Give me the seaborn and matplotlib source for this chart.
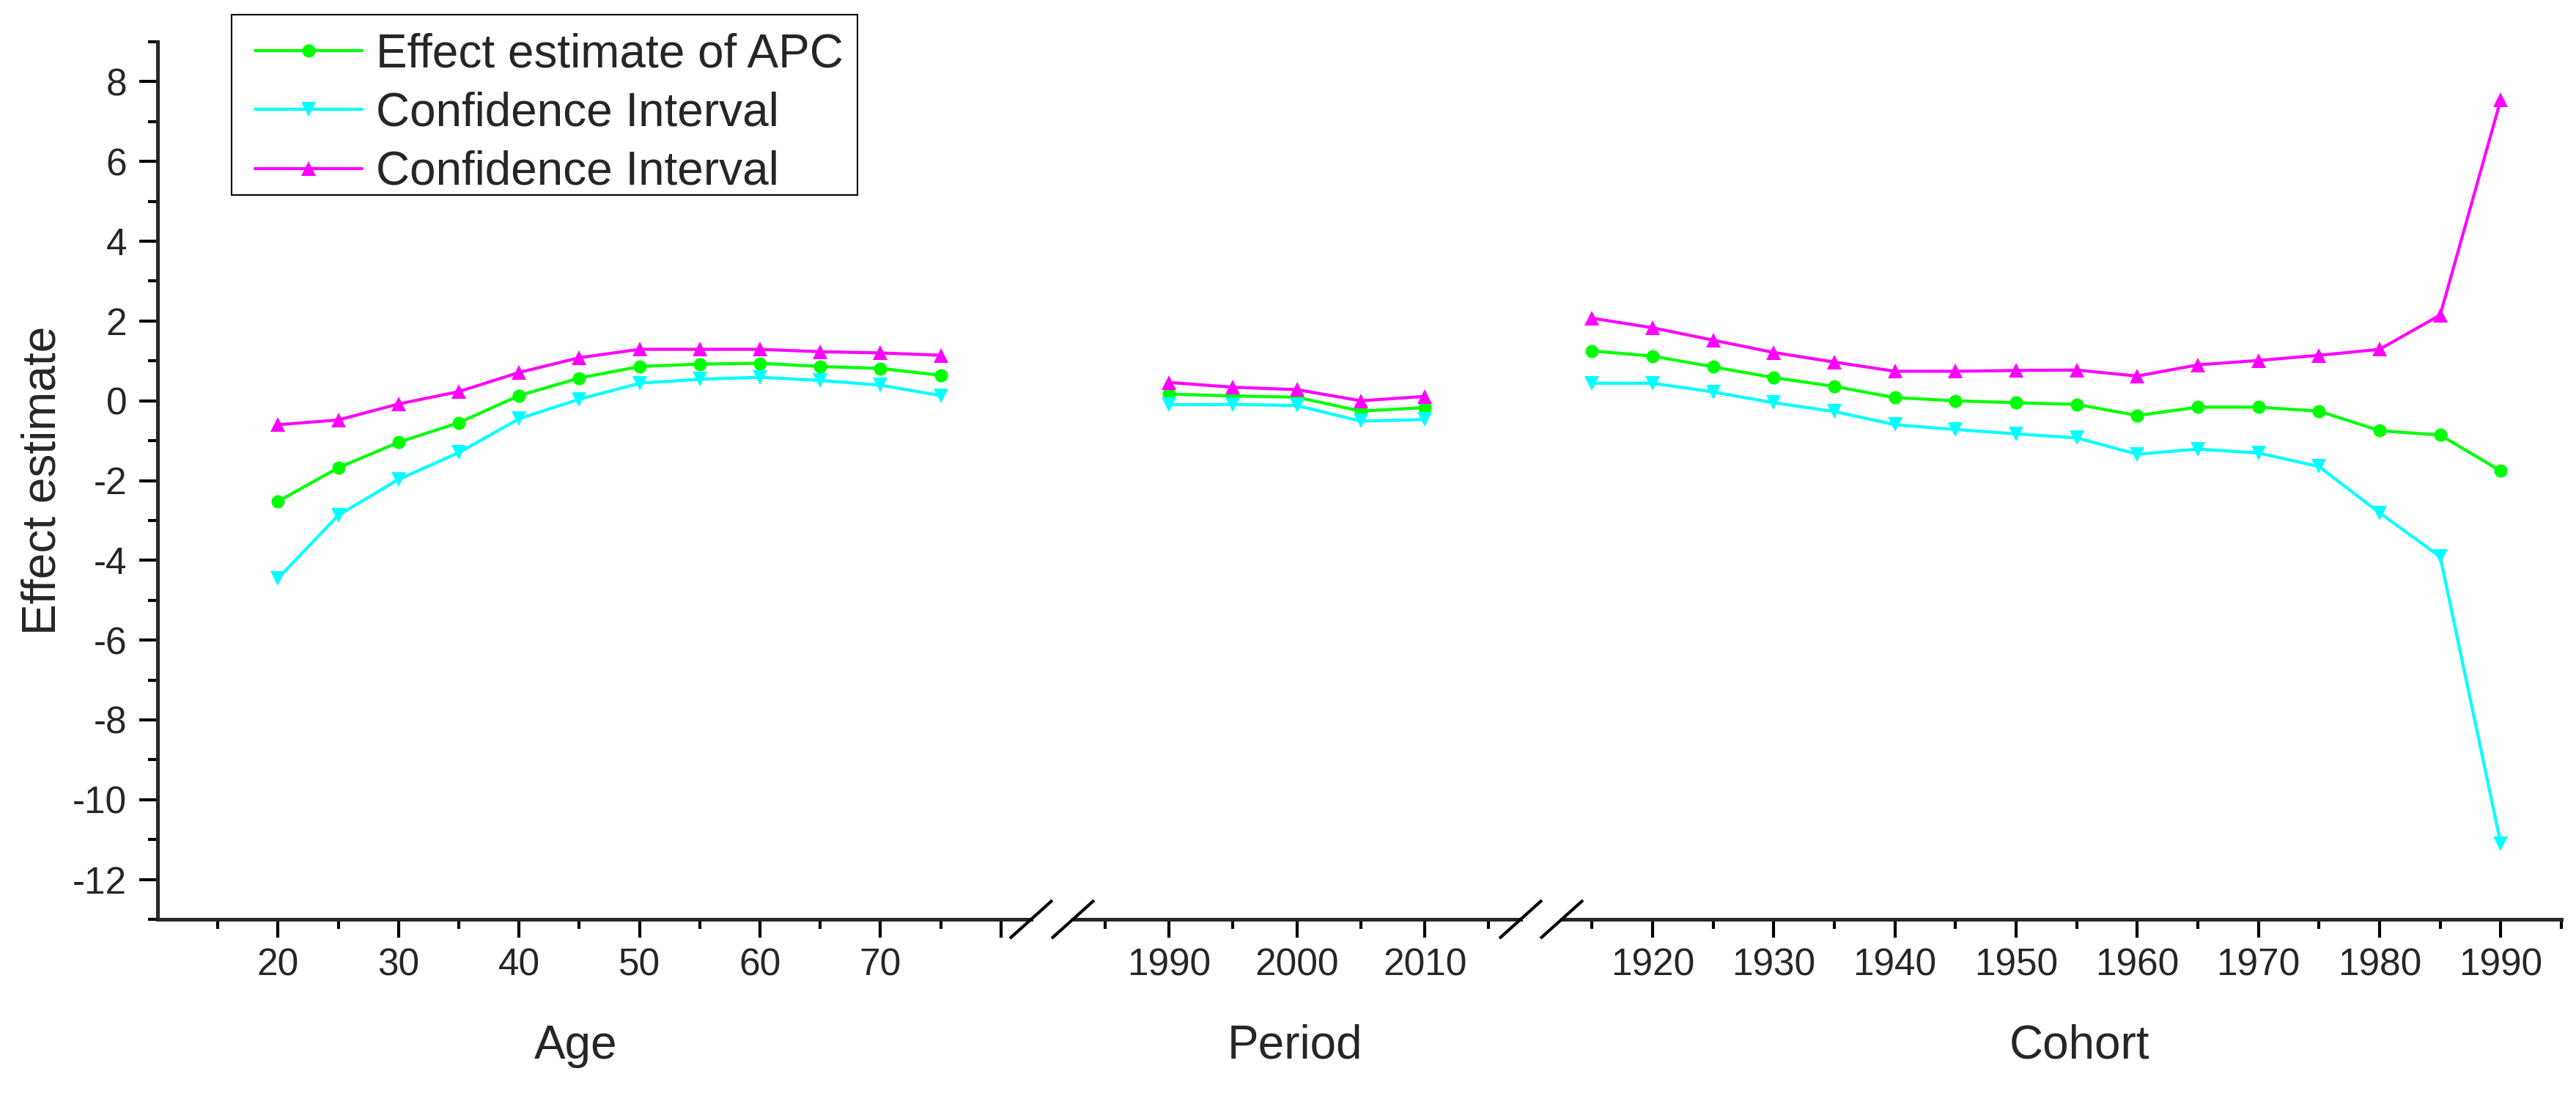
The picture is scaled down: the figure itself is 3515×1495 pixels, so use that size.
import numpy as np
import pandas as pd
import matplotlib
matplotlib.use("Agg")
import matplotlib.pyplot as plt
import seaborn as sns
from matplotlib.ticker import FixedLocator, FixedFormatter
from matplotlib.lines import Line2D
from matplotlib.patches import Rectangle

# ---------------- data ----------------
age = [20, 25, 30, 35, 40, 45, 50, 55, 60, 65, 70, 75]
age_est = [-2.52, -1.68, -1.04, -0.55, 0.13, 0.57, 0.86, 0.92, 0.94, 0.86, 0.81, 0.64]
age_lo = [-4.45, -2.87, -1.97, -1.30, -0.45, 0.04, 0.44, 0.54, 0.59, 0.51, 0.39, 0.13]
age_hi = [-0.60, -0.48, -0.08, 0.23, 0.71, 1.08, 1.29, 1.29, 1.29, 1.23, 1.20, 1.14]

period = [1990, 1995, 2000, 2005, 2010]
per_est = [0.17, 0.12, 0.09, -0.26, -0.17]
per_lo = [-0.10, -0.09, -0.12, -0.51, -0.47]
per_hi = [0.46, 0.34, 0.28, 0.00, 0.11]

cohort = [1915, 1920, 1925, 1930, 1935, 1940, 1945, 1950, 1955, 1960,
          1965, 1970, 1975, 1980, 1985, 1990]
coh_est = [1.25, 1.12, 0.85, 0.58, 0.36, 0.08, 0.00, -0.05, -0.09, -0.37,
           -0.16, -0.16, -0.26, -0.75, -0.86, -1.76]
coh_lo = [0.44, 0.44, 0.22, -0.05, -0.27, -0.60, -0.72, -0.83, -0.93, -1.34,
          -1.21, -1.31, -1.65, -2.81, -3.91, -11.10]
coh_hi = [2.07, 1.83, 1.52, 1.21, 0.97, 0.74, 0.74, 0.76, 0.77, 0.62,
          0.90, 1.01, 1.14, 1.29, 2.15, 7.55]

series_labels = ["Effect estimate of APC", "Confidence Interval", "Confidence Interval"]
segment_titles = ["Age", "Period", "Cohort"]
age_major = [20, 30, 40, 50, 60, 70, 80]
age_major_lbl = ["20", "30", "40", "50", "60", "70", ""]
age_minor = [15, 25, 35, 45, 55, 65, 75]
per_major = [1990, 2000, 2010]
per_minor = [1985, 1995, 2005, 2015]
coh_major = [1920, 1930, 1940, 1950, 1960, 1970, 1980, 1990]
coh_minor = [1915, 1925, 1935, 1945, 1955, 1965, 1975, 1985, 1995]
y_major = list(range(-12, 9, 2))
y_minor = list(range(-13, 10, 2))

# ---------------- style ----------------
sns.set_style("ticks")
plt.rcParams["font.family"] = ["Liberation Sans", "DejaVu Sans"]
plt.rcParams["axes.unicode_minus"] = False

W, H = 3515, 1495
fig = plt.figure(figsize=(W / 100, H / 100), dpi=100)
Y0, Y1 = 57, 1254  # axes top / bottom in px


def box(x0, x1):
    return [x0 / W, 1 - Y1 / H, (x1 - x0) / W, (Y1 - Y0) / H]


ax1 = fig.add_axes(box(215, 1407))
ax2 = fig.add_axes(box(1464, 2075))
ax3 = fig.add_axes(box(2131, 3495))

colors = ["#00FF00", "#00FFFF", "#FF00FF"]
markers = ["o", "v", "^"]
msizes = [13.0, 14.5, 14.5]
LW = 3.0

segments = [
    (ax1, age, [age_est, age_lo, age_hi], (10, 82.5), age_major, age_major_lbl, age_minor, 0.479),
    (ax2, period, [per_est, per_lo, per_hi], (1982.5, 2017.5), per_major,
     [str(v) for v in per_major], per_minor, 0.496),
    (ax3, cohort, [coh_est, coh_lo, coh_hi], (1912.5, 1995), coh_major,
     [str(v) for v in coh_major], coh_minor, 0.518),
]

for i, (ax, xs, ys_list, xlim, major, major_lbl, minor, lblx) in enumerate(segments):
    for ys, c, m, ms, lab in zip(ys_list, colors, markers, msizes, series_labels):
        df = pd.DataFrame({"x": xs, "y": ys})
        sns.lineplot(data=df, x="x", y="y", ax=ax, color=c, marker=m,
                     markersize=ms, markeredgewidth=0, linewidth=LW,
                     label=lab, legend=False, errorbar=None)
    ax.set_xlim(*xlim)
    ax.set_ylim(-13, 9)
    ax.xaxis.set_major_locator(FixedLocator(major))
    ax.xaxis.set_major_formatter(FixedFormatter(major_lbl))
    ax.xaxis.set_minor_locator(FixedLocator(minor))
    ax.set_xlabel(segment_titles[i], fontsize=46, labelpad=40)
    ax.xaxis.label.set_x(lblx)
    ax.set_ylabel("")
    for s in ["top", "right"]:
        ax.spines[s].set_visible(False)
    ax.spines["bottom"].set_linewidth(3.6)
    ax.spines["left"].set_linewidth(3.6)
    ax.tick_params(axis="x", which="major", length=18, width=3.0, labelsize=37,
                   pad=9.5, direction="out", color="black")
    ax.tick_params(axis="x", which="minor", length=9.4, width=3.0, direction="out",
                   color="black")
    ax.patch.set_alpha(0)
    if i == 0:
        ax.yaxis.set_major_locator(FixedLocator(y_major))
        ax.yaxis.set_minor_locator(FixedLocator(y_minor))
        ax.tick_params(axis="y", which="major", length=18, width=3.0, labelsize=37,
                       pad=12, direction="out", color="black")
        ax.tick_params(axis="y", which="minor", length=9.4, width=3.0,
                       direction="out", color="black")
        ax.set_ylabel("Effect estimate", fontsize=46, labelpad=8)
    else:
        ax.spines["left"].set_visible(False)
        ax.tick_params(axis="y", which="both", left=False, labelleft=False)

# axis-break slashes
for cx in [1407, 1464, 2075, 2131]:
    fig.add_artist(Line2D([(cx - 29) / W, (cx + 29) / W],
                          [1 - (Y1 + 26) / H, 1 - (Y1 - 26) / H],
                          transform=fig.transFigure, color="black", lw=3.0,
                          solid_capstyle="butt"))

# legend (frame drawn separately to allow asymmetric padding)
handles = ax1.get_lines()[:3]
leg = fig.legend(handles, series_labels, loc="upper left",
                 bbox_to_anchor=(348 / W, 1 - 44 / H), bbox_transform=fig.transFigure,
                 fontsize=46, frameon=False, borderpad=0, labelspacing=0.32,
                 handlelength=2.28, handletextpad=0.3, borderaxespad=0)
fig.add_artist(Rectangle((316 / W, 1 - 266 / H), (1170 - 316) / W, (266 - 20) / H,
                         transform=fig.transFigure, fill=False, edgecolor="black",
                         linewidth=1.5))

fig.savefig("out.png", dpi=100)
